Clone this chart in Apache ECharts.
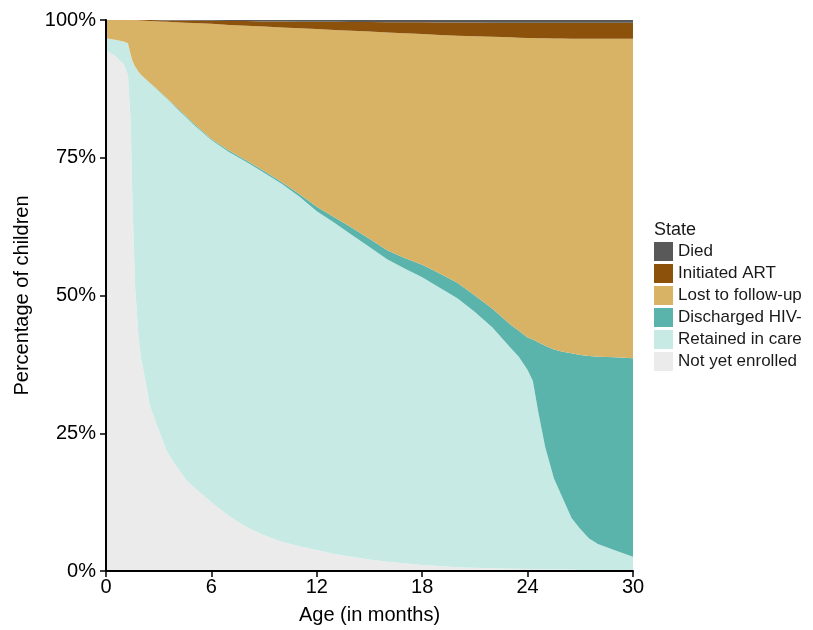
<!DOCTYPE html>
<html>
<head>
<meta charset="utf-8">
<script src="https://cdn.jsdelivr.net/npm/echarts@6/dist/echarts.min.js"></script>
<style>
  html, body { margin: 0; padding: 0; background: #fff; }
  #container { width: 813px; height: 630px; }
</style>
</head>
<body>
<div id="container"></div>
<script>
// age in months
var months = [0, 0.5, 1, 1.25, 1.4, 1.5, 1.65, 1.85, 2, 2.25, 2.5, 3, 3.5, 4, 4.5, 5, 6, 7, 8, 9, 10, 11, 12, 13, 14, 15, 16, 17, 18, 19, 20, 21, 22, 23, 23.5, 24, 24.3, 24.6, 25, 25.5, 26, 26.5, 27, 27.5, 28, 29, 30];

// share of children (%) in each state
var notEnrolled = [94.5, 93.5, 92.0, 90.0, 82.0, 68.0, 52.0, 42.5, 38.5, 34.5, 30.0, 25.6, 21.5, 19.0, 16.8, 15.2, 12.5, 10.0, 8.0, 6.5, 5.3, 4.5, 3.8, 3.1, 2.6, 2.1, 1.7, 1.4, 1.1, 0.9, 0.7, 0.6, 0.5, 0.4, 0.4, 0.35, 0.35, 0.3, 0.3, 0.3, 0.25, 0.25, 0.2, 0.2, 0.2, 0.15, 0.15];
var retained = [2.2, 2.9, 4.1, 5.8, 11.8, 24.6, 39.6, 48.1, 51.5, 54.8, 58.55, 61.5, 64.1, 65.05, 65.75, 65.8, 65.7, 66.05, 66.25, 65.8, 65.0, 63.45, 61.5, 60.1, 58.4, 56.7, 54.9, 53.5, 52.2, 50.5, 48.8, 46.4, 43.7, 40.2, 38.5, 36.15, 34.15, 28.7, 22.2, 16.5, 12.95, 9.35, 7.4, 5.7, 4.7, 3.55, 2.45];
var discharged = [0, 0, 0, 0, 0, 0, 0, 0, 0, 0, 0.05, 0.1, 0.1, 0.15, 0.15, 0.2, 0.2, 0.25, 0.25, 0.3, 0.3, 0.45, 0.8, 1.0, 1.3, 1.5, 1.6, 1.9, 2.3, 2.6, 2.8, 3.0, 3.4, 4.2, 4.7, 5.9, 7.5, 12.5, 18.4, 23.4, 26.6, 29.9, 31.6, 33.1, 34.0, 35.1, 36.0];
var lost = [3.3, 3.6, 3.9, 4.2, 6.2, 7.4, 8.4, 9.35, 9.9, 10.55, 11.2, 12.55, 14.0, 15.4, 16.8, 18.25, 20.9, 22.8, 24.45, 26.2, 28.05, 30.1, 32.25, 34.0, 35.75, 37.6, 39.55, 40.8, 41.85, 43.3, 44.85, 47.05, 49.35, 52.05, 53.2, 54.35, 54.75, 55.2, 55.8, 56.45, 56.85, 57.1, 57.4, 57.6, 57.7, 57.8, 58.0];
var initiatedArt = [0, 0, 0, 0, 0, 0, 0, 0.05, 0.1, 0.15, 0.2, 0.2, 0.2, 0.3, 0.4, 0.4, 0.55, 0.7, 0.85, 0.95, 1.1, 1.2, 1.35, 1.5, 1.6, 1.75, 1.85, 2.0, 2.15, 2.25, 2.4, 2.5, 2.55, 2.65, 2.7, 2.75, 2.75, 2.8, 2.8, 2.85, 2.85, 2.9, 2.9, 2.9, 2.9, 2.9, 2.9];
var died = [0, 0, 0, 0, 0, 0, 0, 0, 0, 0, 0, 0.05, 0.1, 0.1, 0.1, 0.15, 0.15, 0.2, 0.2, 0.25, 0.25, 0.3, 0.3, 0.3, 0.35, 0.35, 0.4, 0.4, 0.4, 0.45, 0.45, 0.45, 0.5, 0.5, 0.5, 0.5, 0.5, 0.5, 0.5, 0.5, 0.5, 0.5, 0.5, 0.5, 0.5, 0.5, 0.5];

var xTicks = [0, 6, 12, 18, 24, 30];
var stateNames = ['Died', 'Initiated ART', 'Lost to follow-up', 'Discharged HIV-', 'Retained in care', 'Not yet enrolled'];

var font = "'Liberation Sans', Arial, sans-serif";

// bottom layer first so the stack builds upward
var layers = [
    { name: 'Not yet enrolled', values: notEnrolled, color: '#ebebeb' },
    { name: 'Retained in care', values: retained, color: '#c7eae5' },
    { name: 'Discharged HIV-', values: discharged, color: '#5ab4ac' },
    { name: 'Lost to follow-up', values: lost, color: '#d8b365' },
    { name: 'Initiated ART', values: initiatedArt, color: '#8c510a' },
    { name: 'Died', values: died, color: '#595959' }
];

var chart = echarts.init(document.getElementById('container'), null, { renderer: 'canvas' });
chart.setOption({
    animation: false,
    title: {
        text: 'State',
        left: 654,
        top: 221,
        padding: 0,
        textStyle: { fontFamily: font, fontSize: 18, fontWeight: 'normal', color: '#1a1a1a' }
    },
    legend: {
        orient: 'vertical',
        left: 654,
        top: 242,
        padding: 0,
        itemWidth: 19,
        itemHeight: 19,
        itemGap: 3,
        icon: 'rect',
        data: stateNames,
        textStyle: { fontFamily: font, fontSize: 17, color: '#1a1a1a' }
    },
    grid: { left: 106, right: 180, top: 20, bottom: 59 },
    xAxis: {
        type: 'value',
        min: 0,
        max: 30,
        interval: 6,
        name: 'Age (in months)',
        nameLocation: 'middle',
        nameGap: 34,
        nameTextStyle: { fontFamily: font, fontSize: 20, color: '#000' },
        axisLine: { lineStyle: { color: '#000', width: 2 } },
        axisTick: { length: 6, lineStyle: { color: '#000', width: 1.5 } },
        axisLabel: {
            fontFamily: font, fontSize: 20, color: '#000', margin: 6,
            formatter: function (v) { return xTicks.indexOf(v) >= 0 ? String(v) : ''; }
        },
        splitLine: { show: false },
        z: 5
    },
    yAxis: {
        type: 'value',
        min: 0,
        max: 100,
        interval: 25,
        name: 'Percentage of children',
        nameLocation: 'middle',
        nameGap: 74,
        nameTextStyle: { fontFamily: font, fontSize: 20, color: '#000' },
        axisLine: { show: true, lineStyle: { color: '#000', width: 2 } },
        axisTick: { show: true, length: 6, lineStyle: { color: '#000', width: 1.5 } },
        axisLabel: { fontFamily: font, fontSize: 20, color: '#000', margin: 10, formatter: '{value}%' },
        splitLine: { show: false },
        z: 5
    },
    series: layers.map(function (l) {
        return {
            name: l.name,
            type: 'line',
            stack: 'total',
            showSymbol: false,
            symbol: 'none',
            // value first so the stack runs on the percentage, not on the month
            data: months.map(function (m, i) { return [l.values[i], m]; }),
            encode: { x: 1, y: 0 },
            itemStyle: { color: l.color },
            lineStyle: { width: 0, color: l.color },
            areaStyle: { color: l.color, opacity: 1 },
            z: 2
        };
    })
});
</script>
</body>
</html>
